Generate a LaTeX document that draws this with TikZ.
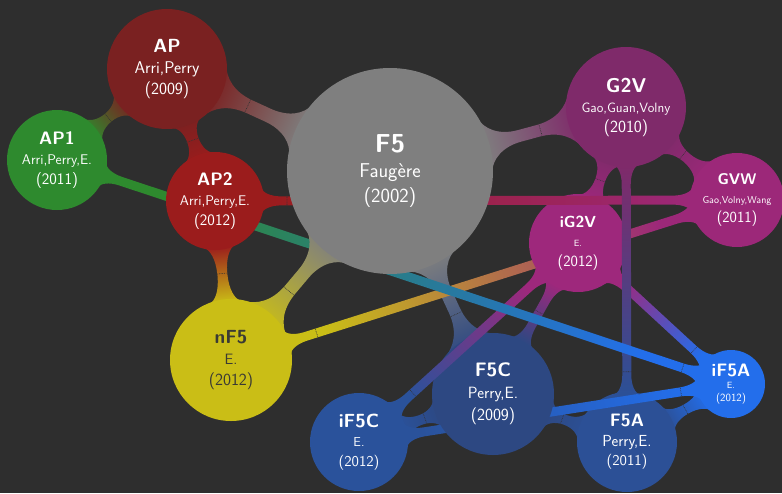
\documentclass[tikz,border=0pt]{standalone}
\usepackage{fontspec}
\usetikzlibrary{calc}
\pgfdeclarelayer{bg}
\pgfdeclarelayer{la}
\pgfdeclarelayer{lb}
\pgfdeclarelayer{lc}
\pgfdeclarelayer{ld}
\pgfdeclarelayer{le}
\pgfdeclarelayer{lf}
\pgfdeclarelayer{lg}
\pgfdeclarelayer{lh}
\pgfdeclarelayer{li}
\pgfdeclarelayer{lj}
\pgfsetlayers{bg,la,lb,lc,ld,le,lf,lg,lh,li,lj,main}

\definecolor{bgc}{RGB}{46,46,46}
\definecolor{cFive}{RGB}{127,127,127}
\definecolor{cAP}{RGB}{122,33,33}
\definecolor{cAPtwo}{RGB}{155,28,28}
\definecolor{cAPone}{RGB}{46,138,46}
\definecolor{cGtwoV}{RGB}{127,42,106}
\definecolor{cGVW}{RGB}{156,40,121}
\definecolor{ciGtwoV}{RGB}{158,40,124}
\definecolor{cnF}{RGB}{202,190,22}
\definecolor{cFC}{RGB}{45,72,130}
\definecolor{ciFC}{RGB}{42,82,155}
\definecolor{cFA}{RGB}{44,80,150}
\definecolor{ciFA}{RGB}{35,110,235}
\definecolor{darktxt}{RGB}{58,58,52}

\tikzset{
  disc/.style={circle, inner sep=0pt, outer sep=0pt, align=center, text=white},
  tx/.style={font=\sffamily\fontsize{10}{#1}\selectfont},
  tickmark/.style={draw=black!80, line width=0.6pt, dash pattern=on 0.8pt off 0.9pt},
}

\newcommand\lbl[6]{{\fontsize{#1}{#1}\selectfont\bfseries #4}\\{\fontsize{#2}{#2}\selectfont #5}\\{\fontsize{#3}{#3}\selectfont #6}}

% metaball-like connection between two circle nodes
% #1 A, #2 B, #3 colour A, #4 colour B, #5 spread, #6 fillet length, #7 half width, #8 tick position (fraction of gap)
\newcommand\conn[8]{%
  \pgfpointanchor{#1}{center}\pgfgetlastxy\cnAx\cnAy
  \pgfpointanchor{#2}{center}\pgfgetlastxy\cnBx\cnBy
  \pgfpointanchor{#1}{east}\pgfgetlastxy\cnEAx\cnEAy
  \pgfpointanchor{#2}{east}\pgfgetlastxy\cnEBx\cnEBy
  \pgfmathsetmacro\cnrA{\cnEAx-\cnAx-0.8}%
  \pgfmathsetmacro\cnrB{\cnEBx-\cnBx-0.8}%
  \pgfmathsetmacro\cnal{atan2(\cnBy-\cnAy,\cnBx-\cnAx)}%
  \pgfmathsetmacro\cndd{veclen(\cnBx-\cnAx,\cnBy-\cnAy)}%
  \pgfmathsetmacro\cnff{min(#6,(\cndd-\cnrA-\cnrB)/2)}%
  \pgfmathsetmacro\cntA{asin(min(#5/\cnrA,0.9))}%
  \pgfmathsetmacro\cntB{asin(min(#5/\cnrB,0.9))}%
  \pgfmathsetmacro\cnkA{0.55*(\cnrA*sin(\cntA)-#7)/cos(\cntA)}%
  \pgfmathsetmacro\cnkB{0.55*(\cnrB*sin(\cntB)-#7)/cos(\cntB)}%
  \pgfmathsetmacro\cnmA{0.55*(\cnrA+\cnff-\cnrA*cos(\cntA))}%
  \pgfmathsetmacro\cnmB{0.55*(\cnrB+\cnff-\cnrB*cos(\cntB))}%
  \pgfmathsetmacro\cnPA{\cnal+\cntA}%
  \pgfmathsetmacro\cnPAm{\cnal-\cntA}%
  \pgfmathsetmacro\cnPB{\cnal+180-\cntB}%
  \pgfmathsetmacro\cnPBm{\cnal+180+\cntB}%
  \pgfmathsetmacro\cndA{\cnrA+\cnff}%
  \pgfmathsetmacro\cndB{\cnrB+\cnff}%
  \pgfmathsetmacro\cnsh{\cnal-90}%
  \pgfmathsetmacro\cnT{\cnrA+0.8+#8*(\cndd-\cnrA-\cnrB-1.6)}%
  \pgfmathsetmacro\cnw{1.2*#7}%
  \path[shade, bottom color=#3, top color=#4, shading angle=\cnsh]
    ($(#1)+(\cnPA:\cnrA)$)
    .. controls +(\cnPA-90:\cnkA) and +(\cnal+180:\cnmA) .. ($(#1)+(\cnal:\cndA)+(\cnal+90:#7)$)
    -- ($(#2)+(\cnal+180:\cndB)+(\cnal+90:#7)$)
    .. controls +(\cnal:\cnmB) and +(\cnPB+90:\cnkB) .. ($(#2)+(\cnPB:\cnrB)$)
    arc[start angle=\cnPB, end angle=\cnPBm, radius=\cnrB]
    .. controls +(\cnPBm-90:\cnkB) and +(\cnal:\cnmB) .. ($(#2)+(\cnal+180:\cndB)+(\cnal-90:#7)$)
    -- ($(#1)+(\cnal:\cndA)+(\cnal-90:#7)$)
    .. controls +(\cnal+180:\cnmA) and +(\cnPAm+90:\cnkA) .. ($(#1)+(\cnPAm:\cnrA)$)
    arc[start angle=\cnPAm, end angle=\cnPA, radius=\cnrA]
    -- cycle;
  \path[tickmark] ($(#1)+(\cnal:\cnT)+(\cnal+90:\cnw)$) -- ($(#1)+(\cnal:\cnT)+(\cnal-90:\cnw)$);
}

\begin{document}
\begin{tikzpicture}[x=1pt,y=1pt]
\useasboundingbox (0,0) rectangle (782,-493);
\begin{pgfonlayer}{bg}
  \fill[bgc] (0,0) rectangle (782,-493);
\end{pgfonlayer}

% ---------- nodes ----------
\node[disc, minimum size=206, fill=cFive, tx=25] (F5) at (390,-171) {\lbl{26}{20}{20}{F5}{Faugère}{(2002)}};
\node[disc, minimum size=120, fill=cAP, tx=21] (AP) at (167,-69) {\lbl{19}{17}{17}{AP}{Arri,Perry}{(2009)}};
\node[disc, minimum size=100, fill=cAPone, tx=20] (AP1) at (57,-160) {\lbl{18}{14}{16}{AP1}{Arri,Perry,E.}{(2011)}};
\node[disc, minimum size=98, fill=cAPtwo, tx=20] (AP2) at (215,-201) {\lbl{18}{14}{16}{AP2}{Arri,Perry,E.}{(2012)}};
\node[disc, minimum size=120, fill=cGtwoV, tx=20] (G2V) at (626,-107) {\lbl{20}{13.5}{17}{G2V}{Gao,Guan,Volny}{(2010)}};
\node[disc, minimum size=94, fill=cGVW, tx=19] (GVW) at (737,-200) {\lbl{15.5}{10}{15.5}{GVW}{Gao,Volny,Wang}{(2011)}};
\node[disc, minimum size=122, fill=cnF, tx=21, text=darktxt] (nF5) at (231,-360) {\lbl{19}{15}{17}{nF5}{E.}{(2012)}};
\node[disc, minimum size=98, fill=ciFC, tx=19.5] (iF5C) at (359,-442) {\lbl{19}{13}{15}{iF5C}{E.}{(2012)}};
\node[disc, minimum size=68, fill=ciFA, tx=12.5] (iF5A) at (731,-384) {\lbl{18}{9}{11}{iF5A}{E.}{(2012)}};
\begin{pgfonlayer}{lb}
\node[disc, minimum size=100, fill=cFA, tx=19.5] (F5A) at (627,-442) {\lbl{18}{16}{15}{F5A}{Perry,E.}{(2011)}};
\end{pgfonlayer}
\begin{pgfonlayer}{ld}
\node[disc, minimum size=122, fill=cFC, tx=22] (F5C) at (493,-394) {\lbl{19.5}{16.3}{17}{F5C}{Perry,E.}{(2009)}};
\end{pgfonlayer}
\begin{pgfonlayer}{lg}
\node[disc, minimum size=98, fill=ciGtwoV, tx=19.5] (iG2V) at (578,-243) {\lbl{16}{9}{15.6}{iG2V}{E.}{(2012)}};
\end{pgfonlayer}

% ---------- connections ----------
\begin{pgfonlayer}{la}
  \conn{F5}{AP}{cFive}{cAP}{28}{32}{7}{0.65}
  \conn{F5}{G2V}{cFive}{cGtwoV}{28}{32}{6}{0.65}
  \conn{F5}{F5C}{cFive}{cFC}{28}{32}{6}{0.67}
  \conn{AP}{AP1}{cAP}{cAPone}{16}{20}{5}{0.5}
  \conn{AP}{AP2}{cAP}{cAPtwo}{16}{20}{6}{0.5}
  \conn{AP2}{nF5}{cAPtwo}{cnF}{16}{25}{5}{0.48}
  \conn{G2V}{GVW}{cGtwoV}{cGVW}{16}{20}{5}{0.38}
  \conn{G2V}{iG2V}{cGtwoV}{ciGtwoV}{16}{20}{5}{0.5}
  \conn{F5C}{iF5C}{cFC}{ciFC}{16}{20}{5}{0.35}
  \conn{F5C}{F5A}{cFC}{cFA}{16}{20}{5}{0.4}
  \conn{F5A}{iF5A}{cFA}{ciFA}{14}{20}{5}{0.48}
\end{pgfonlayer}
\begin{pgfonlayer}{lc}
  \conn{iF5C}{iF5A}{ciFC}{ciFA}{13}{18}{4.5}{0.943}
\end{pgfonlayer}
\begin{pgfonlayer}{le}
  \conn{iG2V}{iF5C}{ciGtwoV}{ciFC}{13}{18}{4.5}{0.88}
  \conn{iG2V}{F5C}{ciGtwoV}{cFC}{13}{18}{4.5}{0.48}
  \conn{iG2V}{iF5A}{ciGtwoV}{ciFA}{13}{18}{4.5}{0.87}
\end{pgfonlayer}
\begin{pgfonlayer}{lf}
  \conn{nF5}{GVW}{cnF}{cGVW}{13}{18}{4.5}{0.068}
\end{pgfonlayer}
\begin{pgfonlayer}{lh}
  \conn{AP2}{GVW}{cAPtwo}{cGVW}{13}{18}{4.5}{0.054}
  \conn{G2V}{F5A}{cGtwoV}{cFA}{13}{18}{4.5}{0.91}
\end{pgfonlayer}
\begin{pgfonlayer}{li}
  \conn{AP1}{iF5A}{cAPone}{ciFA}{13}{18}{4.5}{0.973}
\end{pgfonlayer}
\begin{pgfonlayer}{lj}
  \conn{F5}{nF5}{cFive}{cnF}{28}{32}{6.5}{0.65}
\end{pgfonlayer}
\end{tikzpicture}
\end{document}
